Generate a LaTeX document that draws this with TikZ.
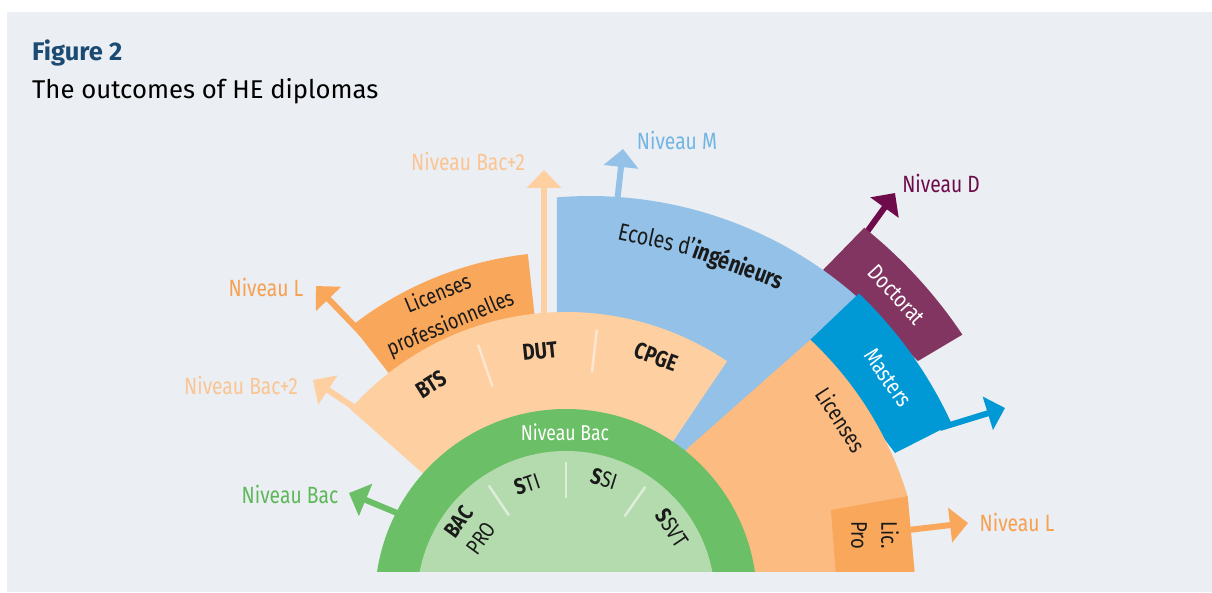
\documentclass[tikz,border=0pt]{standalone}
\usepackage{fontspec}
\setmainfont{Fira Sans}
\newfontfamily\cond{Fira Sans}[FakeStretch=0.82]
\usetikzlibrary{arrows.meta}
\definecolor{bgpanel}{HTML}{EBEEF2}
\definecolor{cgreen}{HTML}{6BBF67}
\definecolor{clgreen}{HTML}{B4DBAE}
\definecolor{cpeach}{HTML}{FED0A1}
\definecolor{corange}{HTML}{F9A75B}
\definecolor{clic}{HTML}{FCBB80}
\definecolor{clblue}{HTML}{93C1E7}
\definecolor{cmasters}{HTML}{0099D6}
\definecolor{cdoc}{HTML}{833562}
\definecolor{cdocarrow}{HTML}{6E0B4A}
\definecolor{cdivpeach}{HTML}{FDE6CF}
\definecolor{cdivgreen}{HTML}{DCEDD8}
\definecolor{ttitle}{HTML}{1B4A73}
\definecolor{tbactwo}{HTML}{FBC593}
\definecolor{tlevL}{HTML}{F7A04F}
\definecolor{tlevM}{HTML}{72B5E4}
\definecolor{tlevBac}{HTML}{5DB85A}
\definecolor{ttext}{HTML}{1A1A1A}
\begin{document}
\begin{tikzpicture}[x=1pt,y=1pt,
  arr/.style={line width=6pt,-{Triangle[width=34pt,length=18pt]}},
  lbl/.style={inner sep=0pt,font=\cond\fontsize{23.5}{27}\selectfont},
  shp/.style={inner sep=0pt,font=\cond\fontsize{22.5}{26}\selectfont,text=ttext},
  cir/.style={inner sep=0pt,font=\cond\fontsize{22.5}{24}\selectfont,text=ttext},
  divp/.style={cdivpeach,line width=2.5pt},
  divg/.style={cdivgreen,line width=2.5pt}]
\useasboundingbox (0,0) rectangle (1212,592);
\fill[white] (0,0) rectangle (1212,592);
\fill[bgpanel] (7,0) rectangle (1212,580);
\coordinate (C) at (566,-8);
% title
\node[anchor=base west,inner sep=0pt,text=ttitle,font=\fontsize{25.5}{30}\selectfont\bfseries] (fig) at (32,531) {Figure 2};
\node[anchor=base west,inner sep=0pt,text=black,font=\fontsize{25.7}{30}\selectfont] (sub) at (32,493) {The outcomes of HE diplomas};
% arrow end points
\coordinate (aBtwoLs) at (370,174); \coordinate (aBtwoLt) at (313,212);
\coordinate (aLLs) at (366,254);    \coordinate (aLLt) at (316,306);
\coordinate (aBtwoTs) at (544,262); \coordinate (aBtwoTt) at (544,422);
\coordinate (aMs) at (616,380);     \coordinate (aMt) at (623,443);
\coordinate (aDs) at (864,356);     \coordinate (aDt) at (895,399);
\coordinate (aMaS) at (940,164);    \coordinate (aMaT) at (1005,184);
\coordinate (aLRs) at (900,61);     \coordinate (aLRt) at (968,69);
\coordinate (aBacs) at (409,74);    \coordinate (aBact) at (349,99);
\draw[arr,cpeach] (aBtwoLs) -- (aBtwoLt);
\draw[arr,corange] (aLLs) -- (aLLt);
\draw[arr,cpeach] (aBtwoTs) -- (aBtwoTt);
\draw[arr,clblue] (aMs) -- (aMt);
\draw[arr,cdocarrow] (aDs) -- (aDt);
\draw[arr,cmasters] (aMaS) -- (aMaT);
\draw[arr,corange] (aLRs) -- (aLRt);
\draw[arr,cgreen] (aBacs) -- (aBact);
% shapes
\begin{scope}
\clip (0,21) rectangle (1212,592);
% Doctorat
\fill[cdoc] (823,322) -- ([shift={(51.3:477pt)}]C) arc[start angle=51.3,end angle=33.8,radius=477pt] -- (918,231) -- cycle;
% Ecoles d'ingenieurs
\fill[clblue] (557,270) -- (556.9,394.6) arc[start angle=94.7,end angle=48.5,radius=404pt] -- (C) -- cycle;
% Masters
\fill[cmasters] (810,252) -- ([shift={(46.3:424pt)}]C) arc[start angle=46.3,end angle=24.5,radius=424pt] -- (895,139) -- cycle;
% Licenses
\fill[clic] (C) -- (688,144) -- ([shift={(46.8:357pt)}]C) arc[start angle=46.8,end angle=16.9,radius=357pt] -- (915,15) -- (566,15) -- cycle;
% Lic. Pro box
\fill[corange] (831,82) -- (907.6,95.8) -- (915,15) -- (836,15) -- cycle;
% Licenses professionnelles band
\fill[corange] ([shift={(128:348pt)}]C) arc[start angle=128,end angle=96.3,radius=348pt] -- ([shift={(96.3:280pt)}]C) arc[start angle=96.3,end angle=128,radius=280pt] -- cycle;
% Bac+2 sector
\fill[cpeach] (C) -- ([shift={(56:288pt)}]C) arc[start angle=56,end angle=138.5,radius=288pt] -- cycle;
\draw[divp] ([shift={(109:226pt)}]C) -- ([shift={(109:270pt)}]C);
\draw[divp] ([shift={(83.5:229pt)}]C) -- ([shift={(83.5:272pt)}]C);
% Bac rings
\fill[cgreen] (C) circle[radius=191pt];
\fill[clgreen] (C) circle[radius=149pt];
\draw[divg] ([shift={(124:102pt)}]C) -- ([shift={(124:138pt)}]C);
\draw[divg] ([shift={(90:102pt)}]C) -- ([shift={(90:138pt)}]C);
\draw[divg] ([shift={(55:102pt)}]C) -- ([shift={(55:138pt)}]C);
\end{scope}
% outer labels
\node[lbl,text=tbactwo] (lBtwoT) at (468,431) {Niveau Bac+2};
\node[lbl,text=tlevM] (lM) at (677,452) {Niveau M};
\node[lbl,text=cdocarrow] (lD) at (941,409) {Niveau D};
\node[lbl,text=tlevL] (lLL) at (266,305) {Niveau L};
\node[lbl,text=tbactwo] (lBtwoL) at (241,207) {Niveau Bac+2};
\node[lbl,text=tlevBac] (lBac) at (290,98) {Niveau Bac};
\node[lbl,text=tlevL] (lLR) at (1017,70) {Niveau L};
% texts in shapes
\node[shp,text=white,font=\cond\fontsize{21.5}{24}\selectfont] (tNB) at (565,160) {Niveau Bac};
\node[shp,font=\cond\fontsize{23}{26}\selectfont\bfseries,rotate=32] (tBTS) at ([shift={(122:254pt)}]C) {BTS};
\node[shp,font=\cond\fontsize{23}{26}\selectfont\bfseries,rotate=6] (tDUT) at ([shift={(96:250pt)}]C) {DUT};
\node[shp,font=\cond\fontsize{23}{26}\selectfont\bfseries,rotate=-20.3] (tCPGE) at ([shift={(69.7:259pt)}]C) {CPGE};
\node[shp,align=center,font=\cond\fontsize{22}{32}\selectfont,rotate=22.7] (tLP) at ([shift={(112.7:315pt)}]C) {Licenses\\professionnelles};
\node[shp,font=\cond\fontsize{24}{26}\selectfont,anchor=base east,rotate=-12.5] (tEc) at (693,336) {Ecoles d’};
\node[shp,font=\cond\fontsize{24}{26}\selectfont\bfseries,anchor=base west,rotate=-20] (tIng) at (691,335) {ingénieurs};
\node[shp,text=white,rotate=-47.3] (tDoc) at ([shift={(42.7:450pt)}]C) {Doctorat};
\node[shp,text=white,rotate=-55] (tMas) at ([shift={(34.6:391pt)}]C) {Masters};
\node[shp,rotate=-56.8] (tLic) at ([shift={(33.2:329pt)}]C) {Licenses};
\node[shp,align=center,font=\cond\fontsize{22.5}{30}\selectfont,rotate=-90] (tLicPro) at (875,57) {Lic.\\Pro};
\node[cir,align=center,font=\cond\fontsize{22}{28}\selectfont,rotate=54] (tBacPro) at ([shift={(143.9:119pt)}]C) {\textbf{BAC}\\PRO};
\node[cir,rotate=18.6] (tSTI) at ([shift={(108.6:122pt)}]C) {\textbf{S}TI};
\node[cir,rotate=-17.4] (tSSI) at ([shift={(72.6:127pt)}]C) {\textbf{S}SI};
\node[cir,rotate=-55.8] (tSSVT) at ([shift={(34.2:128pt)}]C) {\textbf{S}SVT};
\end{tikzpicture}
\end{document}
